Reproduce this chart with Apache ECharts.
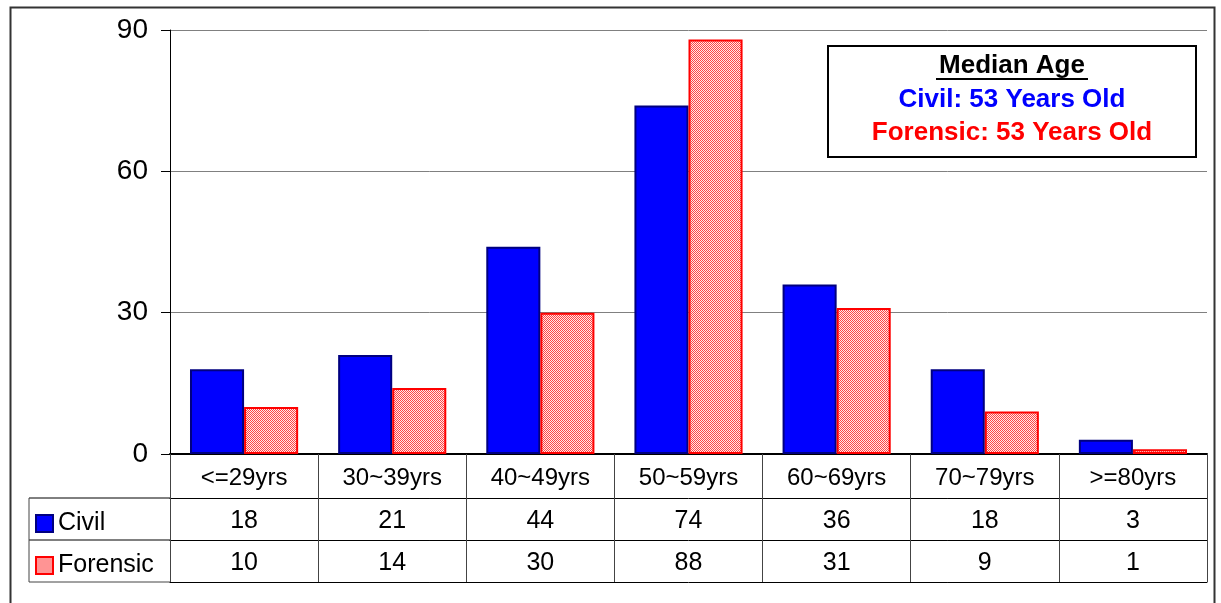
<!DOCTYPE html>
<html>
<head>
<meta charset="utf-8">
<script src="https://cdn.jsdelivr.net/npm/echarts@6/dist/echarts.min.js"></script>
<style>
  html, body { margin: 0; padding: 0; background: #fff; }
  #chart { width: 1221px; height: 603px; }
</style>
</head>
<body>
<div id="chart"></div>
<script>
// Age groups and counts per case type
const categories = ['<=29yrs', '30~39yrs', '40~49yrs', '50~59yrs', '60~69yrs', '70~79yrs', '>=80yrs'];
const civilValues = [18, 21, 44, 74, 36, 18, 3];
const forensicValues = [10, 14, 30, 88, 31, 9, 1];
const yTicks = [0, 30, 60, 90];
const seriesNames = ['Civil', 'Forensic'];
const medianTitle = 'Median Age';
const medianLines = ['Civil: 53 Years Old', 'Forensic: 53 Years Old'];

const FONT = '"Liberation Sans", Arial, sans-serif';

// Dithered red fill for the Forensic bars
function makeDither() {
  const c = document.createElement('canvas');
  c.width = 2; c.height = 2;
  const g = c.getContext('2d');
  g.fillStyle = '#ffe8e8';
  g.fillRect(0, 0, 2, 2);
  g.fillStyle = '#ff4444';
  g.fillRect(0, 0, 1, 1);
  g.fillRect(1, 1, 1, 1);
  return c;
}
const forensicFill = { image: makeDither(), repeat: 'repeat' };
const civilStyle = { color: '#0000ff', borderColor: '#000080', borderWidth: 2 };
const forensicStyle = { color: forensicFill, borderColor: '#ff0000', borderWidth: 2 };
// small legend swatch uses the blended tone of the dither
const forensicSwatch = { color: '#ff9494', borderColor: '#ff0000', borderWidth: 2 };

const chart = echarts.init(document.getElementById('chart'), null, { renderer: 'canvas' });

const ROW = 42; // data-table row height
const tableAxis = (offset, values) => ({
  type: 'category',
  data: categories,
  position: 'bottom',
  offset: offset,
  axisLine: { show: true, lineStyle: { color: '#000', width: 1 } },
  axisTick: values ? { show: true, interval: 0, length: ROW, lineStyle: { color: '#444', width: 1 } } : { show: false },
  axisLabel: values ? {
    show: true, interval: 0, margin: 11,
    fontFamily: FONT, fontSize: 25, color: '#000',
    formatter: (v, i) => String(values[i])
  } : { show: false },
  splitLine: { show: false }
});

const option = {
  animation: false,
  backgroundColor: '#fff',
  grid: { left: 170, right: 14, top: 30, bottom: 149, containLabel: false },
  legend: {
    orient: 'vertical',
    left: 30,
    top: 506,
    icon: 'rect',
    itemWidth: 17,
    itemHeight: 17,
    itemGap: 17,
    data: [
      { name: seriesNames[0], itemStyle: civilStyle },
      { name: seriesNames[1], itemStyle: forensicSwatch }
    ],
    textStyle: { fontFamily: FONT, fontSize: 25, color: '#000', padding: [0, 0, 0, 0] }
  },
  xAxis: [
    {
      type: 'category',
      data: categories,
      position: 'bottom',
      axisLine: { show: true, lineStyle: { color: '#000', width: 2 } },
      axisTick: { show: true, interval: 0, length: 44, lineStyle: { color: '#444', width: 1 } },
      axisLabel: { interval: 0, margin: 12, fontFamily: FONT, fontSize: 24, color: '#000' },
      splitLine: { show: false }
    },
    tableAxis(44, civilValues),
    tableAxis(44 + 42, forensicValues),
    tableAxis(44 + 42 + 42, null)
  ],
  yAxis: {
    type: 'value',
    min: 0,
    max: 90,
    interval: 30,
    axisLine: { show: true, lineStyle: { color: '#000', width: 1 } },
    axisTick: { show: true, length: 9, lineStyle: { color: '#000' } },
    axisLabel: {
      margin: 22, fontFamily: FONT, fontSize: 28, color: '#000',
      formatter: v => (yTicks.indexOf(v) >= 0 ? String(v) : '')
    },
    splitLine: { show: true, lineStyle: { color: '#808080', width: 1 } }
  },
  series: [
    {
      name: seriesNames[0],
      type: 'bar',
      xAxisIndex: 0,
      data: civilValues,
      barGap: '0%',
      barCategoryGap: '27%',
      itemStyle: civilStyle
    },
    {
      name: seriesNames[1],
      type: 'bar',
      xAxisIndex: 0,
      data: forensicValues,
      barGap: '0%',
      barCategoryGap: '27%',
      itemStyle: forensicStyle
    }
  ],
  graphic: [
    // frame around the whole chart
    {
      type: 'rect', left: 8, top: 5, silent: true,
      shape: { x: 0, y: 0, width: 1204, height: 640 },
      style: { fill: 'none', stroke: '#333', lineWidth: 2 }
    },
    // series-name column of the data table
    { type: 'line', shape: { x1: 29, y1: 498, x2: 170, y2: 498 }, style: { stroke: '#000', lineWidth: 1 } },
    { type: 'line', shape: { x1: 29, y1: 540, x2: 170, y2: 540 }, style: { stroke: '#000', lineWidth: 1 } },
    { type: 'line', shape: { x1: 29, y1: 582, x2: 170, y2: 582 }, style: { stroke: '#444', lineWidth: 1 } },
    { type: 'line', shape: { x1: 29, y1: 498, x2: 29, y2: 582 }, style: { stroke: '#444', lineWidth: 1 } },
    // median age note
    {
      type: 'group', left: 827, top: 45,
      children: [
        {
          type: 'rect', shape: { x: 0, y: 0, width: 368, height: 111 },
          style: { fill: '#fff', stroke: '#000', lineWidth: 2 }
        },
        {
          type: 'text', x: 184, y: 20,
          style: { text: medianTitle, fill: '#000', font: 'bold 26px ' + FONT, align: 'center', verticalAlign: 'middle' }
        },
        { type: 'line', shape: { x1: 108, y1: 33, x2: 260, y2: 33 }, style: { stroke: '#000', lineWidth: 2 } },
        {
          type: 'text', x: 184, y: 54,
          style: { text: medianLines[0], fill: '#0000ff', font: 'bold 26px ' + FONT, align: 'center', verticalAlign: 'middle' }
        },
        {
          type: 'text', x: 184, y: 87,
          style: { text: medianLines[1], fill: '#ff0000', font: 'bold 26px ' + FONT, align: 'center', verticalAlign: 'middle' }
        }
      ]
    }
  ]
};

chart.setOption(option);
</script>
</body>
</html>
